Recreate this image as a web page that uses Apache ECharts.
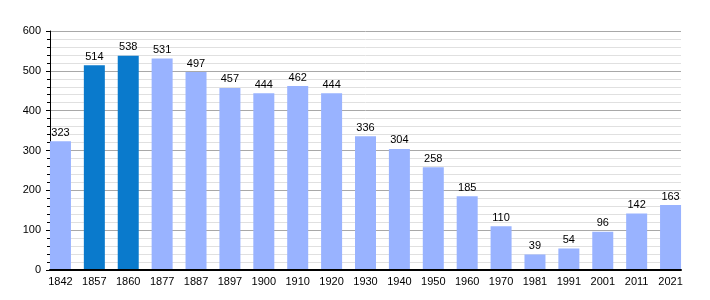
<!DOCTYPE html>
<html><head><meta charset="utf-8">
<script src="https://cdn.jsdelivr.net/npm/echarts@6/dist/echarts.min.js"></script>
<style>html,body{margin:0;padding:0;background:#fff}#c{width:710px;height:300px}</style>
</head><body><div id="c"></div>
<script>
const years = ['1842','1857','1860','1877','1887','1897','1900','1910','1920','1930','1940','1950','1960','1970','1981','1991','2001','2011','2021'];
const population = [323,514,538,531,497,457,444,462,444,336,304,258,185,110,39,54,96,142,163];
const highlighted = ['1857','1860'];
const yTicks = [0,100,200,300,400,500,600];

const lightColor = '#99b3ff';
const darkColor = '#0a7acc';
const font = 'Liberation Sans, Arial, sans-serif';

const chart = echarts.init(document.getElementById('c'));
chart.setOption({
  animation: false,
  grid: [
    {left: 50, right: 29, top: 31, bottom: 30},
    {left: 43.5, right: 22.5, top: 31, bottom: 30}
  ],
  xAxis: [
    {gridIndex: 0, type: 'category', data: years, show: true, z: 10,
     axisLine: {show: true, lineStyle: {color: '#000', width: 2}},
     axisTick: {show: false}, axisLabel: {show: false}, splitLine: {show: false}},
    {gridIndex: 1, type: 'category', data: years,
     axisLine: {show: false}, axisTick: {show: false},
     axisLabel: {color: '#000', fontFamily: font, fontSize: 11, margin: 6, interval: 0}}
  ],
  yAxis: [
    {gridIndex: 0, type: 'value', min: yTicks[0], max: yTicks[yTicks.length-1], interval: 100,
     axisLine: {show: true, lineStyle: {color: '#000', width: 1}},
     axisTick: {show: true, length: 4, lineStyle: {color: '#000'}},
     minorTick: {show: true, splitNumber: 5, length: 3, lineStyle: {color: '#000'}},
     axisLabel: {color: '#000', fontFamily: font, fontSize: 11, margin: 9},
     splitLine: {show: true, lineStyle: {color: '#a8a8a8', width: 1}},
     minorSplitLine: {show: true, lineStyle: {color: '#e0e0e0', width: 1}}},
    {gridIndex: 1, type: 'value', min: yTicks[0], max: yTicks[yTicks.length-1], interval: 100, show: false,
     splitLine: {show: false}}
  ],
  series: [{
    type: 'bar', xAxisIndex: 1, yAxisIndex: 1, barWidth: 21,
    data: population.map((v, i) => ({
      value: v,
      itemStyle: {color: highlighted.includes(years[i]) ? darkColor : lightColor}
    })),
    label: {show: true, position: 'top', distance: 3, color: '#000', fontFamily: font, fontSize: 11}
  }]
});
</script></body></html>
